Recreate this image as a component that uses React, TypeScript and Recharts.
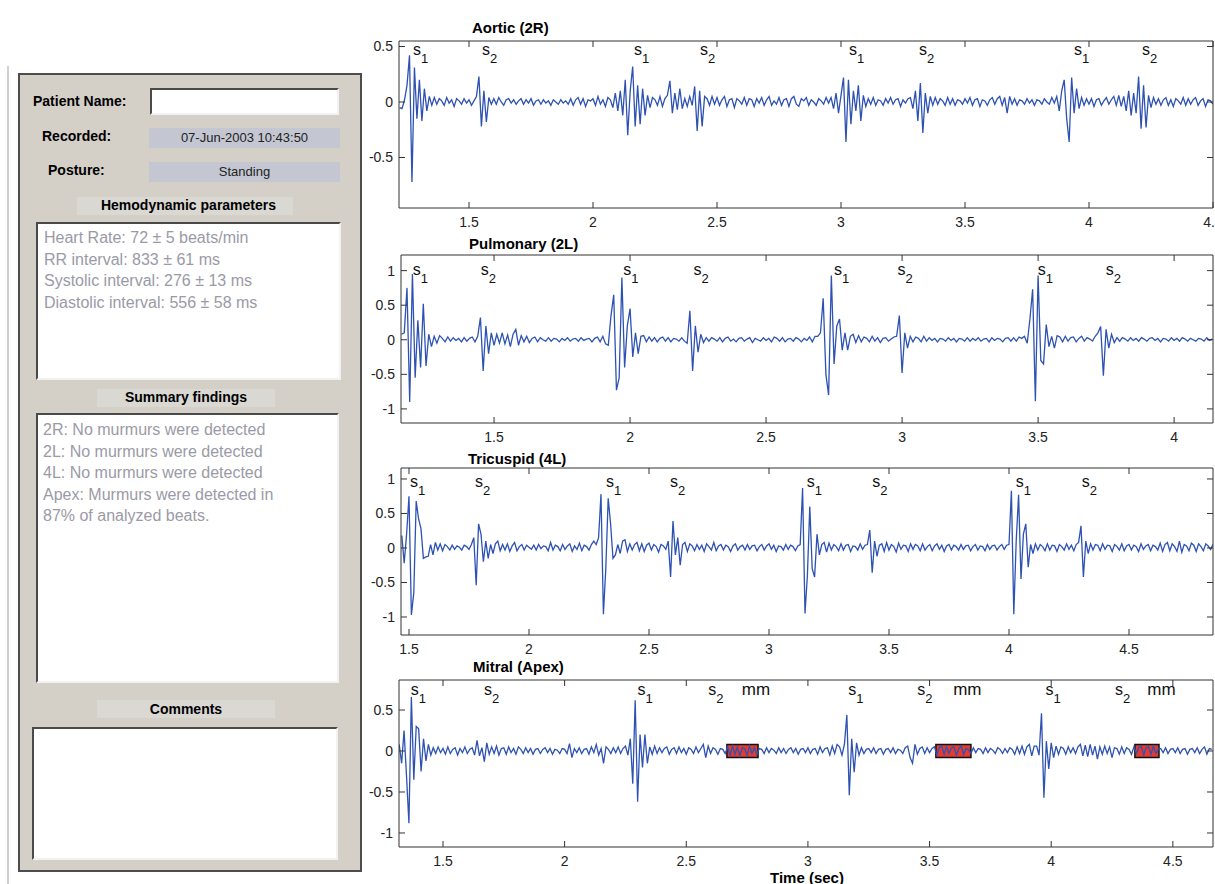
import React from 'react';
import { LineChart, Line, XAxis, YAxis, ReferenceLine, ReferenceArea } from 'recharts';

const STEP = 0.01; // signal samples every 10 ms
const FONT = '"Liberation Sans", Arial, sans-serif';
const WAVE = '#2e52b2';
const FRAME = '#333';

// Aortic (2R)
const aorticStart = 1.22;
const aorticValues = [
  -0.05, -0.06, 0.02, 0.15, 0.42, -0.72, 0.31, -0.15,
  0.2, -0.17, 0.12, -0.08, 0.05, -0.03, 0.04, -0.02, 0.03, 0.01,
  -0.03, 0.04, -0.01, 0.02, -0.04, 0.03, 0.01, -0.02, 0.03, -0.01,
  0.02, -0.03, 0.01, 0.05, 0.23, -0.22, 0.1, -0.18, 0.04, -0.02,
  0.03, -0.02, 0.04, 0.0, -0.03, 0.02, 0.03, -0.01, 0.02, -0.02,
  0.01, 0.03, -0.02, 0.02, -0.01, 0.03, -0.03, 0.01, 0.02, -0.02,
  0.02, -0.01, 0.01, -0.03, 0.02, 0.0, -0.02, 0.02, -0.01, 0.01,
  -0.02, 0.03, -0.03, 0.02, 0.04, -0.02, 0.03, -0.04, 0.02, 0.01,
  0.03, -0.03, 0.05, -0.02, 0.02, -0.04, 0.04, 0.02, -0.05, 0.08,
  -0.08, 0.1, -0.12, 0.2, -0.3, 0.1, 0.32, -0.22, 0.15, -0.2,
  0.12, -0.12, 0.06, -0.05, 0.04, 0.02, -0.03, 0.05, -0.04, 0.03,
  0.06, 0.19, -0.1, 0.08, -0.07, 0.12, -0.06, 0.03, -0.04, 0.05,
  -0.03, 0.14, -0.26, 0.1, -0.22, 0.05, 0.03, -0.03, 0.05, -0.02,
  0.04, -0.03, 0.02, 0.05, -0.04, 0.02, 0.03, -0.05, 0.03, 0.01,
  -0.02, 0.04, -0.03, 0.03, 0.02, -0.04, 0.03, -0.01, 0.04, -0.03,
  0.02, 0.05, -0.03, 0.01, -0.02, 0.04, -0.03, 0.02, 0.03, -0.04,
  0.03, 0.05, -0.02, -0.04, 0.03, 0.01, 0.04, -0.03, 0.02, 0.0,
  -0.03, 0.03, 0.01, -0.02, 0.04, -0.01, 0.04, -0.06, 0.08, -0.1,
  0.06, 0.22, -0.36, 0.2, -0.2, 0.1, -0.08, 0.15, -0.17, 0.06,
  -0.04, 0.03, -0.02, 0.04, -0.03, 0.02, 0.01, -0.03, 0.03, -0.01,
  0.04, -0.02, 0.02, 0.03, -0.04, 0.02, -0.01, 0.03, 0.04, -0.06,
  0.1, -0.17, 0.17, -0.28, 0.08, -0.1, 0.05, -0.03, 0.04, -0.02,
  0.03, 0.01, -0.03, 0.04, -0.02, 0.03, -0.03, 0.02, 0.01, -0.02,
  0.03, -0.01, 0.04, -0.03, 0.02, 0.03, -0.04, 0.02, 0.01, -0.03,
  0.02, 0.04, -0.02, 0.03, 0.05, -0.03, 0.04, -0.1, 0.05, -0.02,
  0.03, -0.03, 0.02, 0.01, -0.02, 0.03, -0.01, 0.02, -0.03, 0.02,
  0.01, -0.02, 0.03, 0.0, -0.02, 0.04, -0.01, 0.05, -0.08, 0.1,
  0.2, -0.15, -0.36, 0.22, -0.1, 0.12, -0.06, 0.04, -0.03, 0.03,
  -0.02, 0.03, -0.04, 0.02, 0.03, -0.03, 0.01, 0.04, -0.02, 0.02,
  0.05, -0.03, 0.06, -0.04, 0.05, -0.08, 0.1, -0.12, 0.08, -0.1,
  0.23, -0.24, 0.15, -0.23, 0.06, -0.05, 0.04, -0.02, 0.03, -0.03,
  0.02, 0.04, -0.03, 0.02, -0.04, 0.03, 0.01, -0.02, 0.04, -0.03,
  0.03, -0.02, 0.02, 0.04, -0.03, 0.01, 0.03, -0.04, 0.02, 0.01,
  -0.02,
];
const aorticS1 = [1.274, 2.165, 3.032, 3.94];
const aorticS2 = [1.552, 2.431, 3.315, 4.214];

// Pulmonary (2L)
const pulmonaryStart = 1.16;
const pulmonaryValues = [
  0.08, 0.1, 0.75, -0.9,
  0.95, -0.55, 0.28, -0.4, 0.52, -0.38, 0.08, -0.1, 0.05, -0.05,
  0.06, 0.02, -0.03, 0.04, -0.02, 0.03, -0.01, 0.02, -0.03, 0.03,
  -0.02, 0.02, 0.04, -0.03, 0.05, 0.32, -0.45, 0.2, -0.2, 0.1,
  -0.08, 0.08, -0.05, 0.1, -0.06, 0.07, -0.1, 0.08, 0.15, -0.08,
  0.06, -0.03, 0.05, -0.04, 0.02, 0.04, -0.03, 0.03, 0.0, -0.02,
  0.03, -0.02, 0.02, 0.01, -0.03, 0.02, -0.01, 0.03, -0.02, 0.01,
  0.02, -0.02, 0.03, -0.01, 0.01, 0.02, -0.03, 0.02, 0.04, -0.03,
  0.05, -0.06, -0.08, 0.35, 0.65, -0.73, -0.55, 0.9, -0.4, 0.2,
  0.45, -0.25, 0.1, -0.2, 0.05, 0.06, -0.03, 0.04, -0.02, 0.03,
  -0.03, 0.02, 0.04, -0.02, 0.03, -0.03, 0.02, 0.01, -0.02, 0.03,
  -0.02, -0.05, 0.42, -0.45, 0.2, -0.18, 0.08, -0.04, 0.03, -0.02,
  0.03, 0.01, -0.02, 0.03, -0.03, 0.02, 0.04, -0.02, 0.01, -0.03,
  0.02, 0.03, -0.02, 0.01, 0.03, -0.04, 0.02, 0.0, -0.02, 0.03,
  -0.01, 0.02, -0.03, 0.04, 0.02, -0.02, 0.03, -0.03, 0.01, 0.02,
  -0.02, 0.03, 0.01, -0.03, 0.02, -0.01, 0.04, -0.03, 0.05, 0.05,
  0.1, 0.6, -0.5, -0.8, 0.93, -0.35, 0.2, 0.3, -0.15, 0.1,
  -0.15, 0.05, 0.08, -0.04, 0.06, -0.03, 0.04, 0.02, -0.03, 0.05,
  -0.02, 0.03, -0.04, 0.02, 0.03, -0.02, 0.01, 0.04, 0.05, 0.35,
  -0.48, 0.1, -0.12, 0.05, -0.03, 0.04, 0.02, -0.03, 0.05, -0.02,
  0.03, -0.01, 0.02, -0.03, 0.02, 0.01, -0.02, 0.03, -0.01, 0.02,
  -0.03, 0.02, 0.01, -0.02, 0.03, -0.02, 0.02, -0.01, 0.03, -0.02,
  0.01, 0.02, -0.03, 0.03, -0.01, 0.02, 0.01, -0.03, 0.02, 0.03,
  -0.02, 0.03, -0.02, 0.04, 0.02, 0.05, -0.05, 0.3, 0.73, -0.89,
  0.93, -0.3, -0.35, 0.22, -0.1, 0.05, -0.12, 0.06, 0.04, -0.03,
  0.05, -0.02, 0.03, 0.04, -0.03, 0.02, 0.05, -0.02, 0.03, 0.01,
  -0.02, 0.05, 0.1, 0.19, -0.52, 0.15, -0.12, 0.08, -0.04, 0.03,
  -0.02, 0.03, 0.01, -0.02, 0.03, -0.01, 0.02, -0.02, 0.03, 0.01,
  -0.02, 0.02, 0.03, -0.01, 0.02, -0.03, 0.02, 0.01, -0.02, 0.03,
  -0.01, 0.02, -0.02, 0.03, 0.01, -0.02, 0.02, 0.0, -0.02, 0.02,
  0.01, -0.02, 0.03, -0.01, 0.01,
];
const pulmonaryS1 = [1.201, 1.975, 2.75, 3.499];
const pulmonaryS2 = [1.451, 2.233, 2.983, 3.749];

// Tricuspid (4L)
const tricuspidStart = 1.47;
const tricuspidValues = [
  0.18, -0.22, 0.2,
  0.75, -0.97, -0.65, 0.68, 0.42, 0.28, -0.15, -0.13, -0.12, 0.05,
  -0.1, 0.08, -0.03, 0.06, -0.04, 0.05, 0.02, -0.03, 0.04, -0.02,
  0.03, 0.01, -0.03, 0.04, 0.02, -0.02, 0.05, 0.15, -0.54, 0.35,
  0.2, -0.2, 0.1, -0.15, 0.05, -0.08, 0.06, 0.1, -0.04, 0.05,
  -0.03, 0.06, -0.05, 0.03, 0.08, -0.04, 0.02, 0.05, -0.03, 0.04,
  0.01, -0.02, 0.04, -0.03, 0.05, -0.01, 0.03, 0.02, -0.04, 0.08,
  -0.03, 0.04, 0.02, -0.04, 0.05, -0.02, 0.03, 0.06, -0.05, 0.03,
  -0.02, 0.07, -0.04, 0.04, 0.02, -0.03, 0.05, 0.1, 0.05, 0.15,
  0.78, -0.96, -0.3, 0.72, 0.35, -0.15, -0.1, 0.05, -0.08, 0.1,
  0.12, -0.05, 0.06, -0.03, 0.05, 0.08, -0.04, 0.06, -0.05, 0.04,
  0.07, -0.03, 0.05, 0.02, -0.06, 0.05, 0.03, -0.02, 0.1, -0.42,
  0.39, -0.1, 0.15, -0.25, 0.05, 0.08, -0.05, 0.06, 0.03, -0.04,
  0.05, -0.02, 0.04, -0.05, 0.06, 0.02, -0.03, 0.08, -0.04, 0.03,
  0.05, -0.03, 0.04, 0.02, -0.05, 0.03, 0.06, -0.03, 0.02, 0.04,
  -0.03, 0.05, -0.02, 0.03, 0.04, -0.04, 0.02, 0.05, -0.03, 0.03,
  0.06, -0.02, 0.04, -0.05, 0.03, 0.02, -0.03, 0.05, -0.02, 0.04,
  0.02, -0.04, 0.03, 0.05, 0.87, -0.95, -0.4, 0.6, -0.3, -0.42,
  0.2, -0.1, 0.05, 0.08, -0.06, 0.07, -0.03, 0.05, 0.02, -0.04,
  0.06, -0.03, 0.04, 0.05, -0.05, 0.03, 0.02, -0.03, 0.06, -0.02,
  0.04, 0.05, 0.26, -0.36, 0.1, -0.12, 0.04, 0.06, -0.05, 0.08,
  -0.03, 0.05, 0.02, -0.06, 0.07, -0.02, 0.04, 0.03, -0.05, 0.06,
  -0.02, 0.05, 0.03, -0.04, 0.06, -0.03, 0.02, 0.05, -0.04, 0.03,
  0.06, -0.02, 0.04, -0.05, 0.03, 0.05, -0.03, 0.04, 0.02, -0.03,
  0.05, -0.02, 0.03, 0.04, -0.04, 0.02, 0.05, -0.03, 0.03, 0.02,
  -0.04, 0.05, -0.02, 0.03, 0.04, -0.03, 0.02, 0.05, -0.02, 0.04,
  0.05, 0.83, -0.96, 0.1, 0.77, -0.45, 0.2, 0.35, -0.28, 0.05,
  -0.08, 0.06, -0.03, 0.05, 0.02, -0.04, 0.06, -0.03, 0.04, 0.03,
  -0.05, 0.05, 0.02, -0.03, 0.06, -0.02, 0.04, -0.04, 0.05, 0.08,
  0.32, -0.42, 0.1, -0.08, 0.06, -0.03, 0.05, 0.04, -0.04, 0.06,
  -0.02, 0.04, 0.03, -0.05, 0.05, 0.02, -0.03, 0.06, -0.04, 0.03,
  0.05, -0.03, 0.04, 0.02, -0.05, 0.06, -0.02, 0.03, 0.05, -0.04,
  0.04, 0.02, -0.03, 0.07, -0.05, 0.05, 0.08, -0.04, 0.06, 0.02,
  -0.05, 0.1, -0.06, 0.05, 0.03, -0.04, 0.07, 0.04, -0.05, 0.06,
  0.02, -0.04, 0.06, 0.03, -0.02, 0.05,
];
const tricuspidS1 = [1.504, 2.321, 3.157, 4.028];
const tricuspidS2 = [1.775, 2.588, 3.43, 4.303];

// Mitral (Apex)
const mitralStart = 1.32;
const mitralValues = [
  0.08, -0.15, 0.25, -0.3, -0.88, 0.66, -0.35, 0.3,
  0.27, -0.25, 0.15, -0.12, 0.08, -0.05, 0.04, -0.03, 0.05, -0.02,
  0.03, -0.04, 0.05, -0.03, 0.02, 0.04, -0.05, 0.03, -0.02, 0.05,
  -0.03, 0.02, 0.04, -0.05, 0.13, -0.06, 0.04, -0.13, 0.1, -0.04,
  0.05, -0.03, 0.06, -0.05, 0.03, 0.04, -0.04, 0.05, -0.02, 0.03,
  -0.04, 0.05, 0.02, -0.03, 0.04, -0.02, 0.03, -0.04, 0.02, 0.03,
  -0.03, 0.02, 0.04, -0.02, 0.03, -0.04, 0.02, 0.01, -0.03, 0.03,
  0.02, -0.03, 0.09, -0.08, 0.03, -0.02, 0.04, -0.03, 0.02, 0.03,
  -0.04, 0.05, -0.02, 0.08, -0.05, 0.03, -0.15, 0.05, 0.02, -0.03,
  0.04, -0.02, 0.05, -0.03, 0.03, 0.06, -0.05, 0.15, -0.4, 0.62,
  -0.62, 0.2, -0.2, 0.2, -0.15, 0.05, -0.04, 0.06, -0.03, 0.04,
  -0.02, 0.03, 0.05, -0.04, 0.02, 0.04, -0.03, 0.05, -0.02, 0.03,
  -0.04, 0.04, 0.02, -0.03, 0.05, -0.02, 0.03, 0.08, -0.08, 0.06,
  -0.03, 0.04, 0.02, -0.04, 0.03, 0.02, -0.03, 0.05, -0.05, 0.06,
  -0.04, 0.05, -0.06, 0.04, 0.03, -0.05, 0.06, -0.03, 0.04, -0.04,
  0.03, 0.02, -0.03, 0.04, -0.02, 0.03, 0.01, -0.03, 0.04, -0.02,
  0.03, -0.03, 0.02, 0.04, -0.02, 0.03, -0.04, 0.02, 0.03, -0.02,
  0.04, -0.03, 0.02, 0.03, -0.04, 0.05, -0.02, 0.03, 0.04, -0.05,
  0.06, -0.03, 0.08, 0.05, -0.05, 0.08, 0.44, -0.54, 0.15, -0.26,
  0.1, -0.05, 0.04, -0.03, 0.02, 0.03, -0.02, 0.04, -0.03, 0.02,
  0.03, -0.04, 0.02, 0.03, -0.02, 0.04, -0.03, 0.02, 0.01, -0.03,
  0.04, 0.06, -0.08, -0.15, 0.08, -0.04, 0.03, 0.05, -0.03, 0.04,
  -0.02, 0.03, 0.05, -0.05, 0.04, 0.06, -0.04, 0.05, -0.03, 0.04,
  0.05, -0.05, 0.03, 0.06, -0.04, 0.03, 0.02, -0.03, 0.04, -0.02,
  0.03, 0.02, -0.03, 0.04, -0.02, 0.03, 0.01, -0.03, 0.04, 0.02,
  -0.03, 0.03, -0.02, 0.04, 0.02, -0.04, 0.05, -0.03, 0.06, -0.04,
  0.05, 0.08, -0.06, 0.06, 0.06, -0.05, 0.46, -0.57, 0.12, -0.22,
  0.1, -0.08, 0.06, -0.04, 0.05, 0.03, -0.04, 0.05, -0.02, 0.04,
  -0.03, 0.05, 0.08, -0.06, 0.07, -0.07, 0.08, -0.05, 0.06, -0.1,
  0.05, -0.04, 0.06, -0.03, 0.05, -0.08, 0.04, 0.03, -0.04, 0.05,
  -0.03, 0.04, 0.02, -0.04, 0.05, -0.03, 0.04, 0.06, -0.05, 0.04,
  0.05, -0.04, 0.06, -0.03, 0.02, 0.03, -0.02, 0.04, -0.03, 0.02,
  0.03, -0.02, 0.04, -0.03, 0.02, 0.03, -0.04, 0.02, 0.03, -0.02,
  0.04, -0.03, 0.02, 0.05, -0.04, 0.03, 0.02,
];
const mitralS1 = [1.368, 2.299, 3.166, 3.977];
const mitralS2 = [1.669, 2.59, 3.449, 4.262];
const mitralMurmurs = [
  [2.667, 2.795],
  [3.526, 3.67],
  [4.344, 4.443],
];
const mitralMmLabels = [2.728, 3.597, 4.395];
const murmurBand = [-0.08, 0.08];

const xTicksAortic = [1.5, 2, 2.5, 3, 3.5, 4, 4.5];
const xTicksPulmonary = [1.5, 2, 2.5, 3, 3.5, 4];
const xTicksTricuspid = [1.5, 2, 2.5, 3, 3.5, 4, 4.5];
const xTicksMitral = [1.5, 2, 2.5, 3, 3.5, 4, 4.5];
const yTicksSmall = [-0.5, 0, 0.5];
const yTicksFull = [-1, -0.5, 0, 0.5, 1];
const yTicksMitral = [-1, -0.5, 0, 0.5];

const hemodynamicLines = [
  'Heart Rate: 72 \u00b1 5 beats/min',
  'RR interval: 833 \u00b1 61 ms',
  'Systolic interval: 276 \u00b1 13 ms',
  'Diastolic interval: 556 \u00b1 58 ms',
];
const summaryLines = [
  '2R: No murmurs were detected',
  '2L: No murmurs were detected',
  '4L: No murmurs were detected',
  'Apex: Murmurs were detected in',
  '87% of analyzed beats.',
];

const LEFT_AXIS = 44;
const TOP_PAD = 10; // margin + 1px top axis
const BOTTOM_AXIS = 26;
const RIGHT_PAD = 20; // margin + 1px right axis
const PLOT_RIGHT = 1213;
const TICK = 6;

const BottomTick = ({ x, y, payload }: any) => (
  <g>
    <line x1={x} y1={y} x2={x} y2={y - TICK} stroke={FRAME} />
    <text x={x} y={y + 19} textAnchor="middle" fontSize={14} fontFamily={FONT} fill="#222">
      {payload.value}
    </text>
  </g>
);
const TopTick = ({ x, y }: any) => <line x1={x} y1={y} x2={x} y2={y + TICK} stroke={FRAME} />;
const LeftTick = ({ x, y, payload }: any) => (
  <g>
    <line x1={x} y1={y} x2={x + TICK} y2={y} stroke={FRAME} />
    <text x={x - 6} y={y + 5} textAnchor="end" fontSize={14} fontFamily={FONT} fill="#222">
      {payload.value}
    </text>
  </g>
);
const RightTick = ({ x, y }: any) => <line x1={x} y1={y} x2={x - TICK} y2={y} stroke={FRAME} />;

const SoundLabel = ({ viewBox, sub, dy }: any) => (
  <text x={viewBox.x} y={viewBox.y + dy} fontSize={16} fontFamily={FONT} fill="#111">
    s
    <tspan dy={8} fontSize={13}>
      {sub}
    </tspan>
  </text>
);
const MmLabel = ({ viewBox, dy }: any) => (
  <text x={viewBox.x} y={viewBox.y + dy} fontSize={17} fontFamily={FONT} fill="#111">
    mm
  </text>
);

function PcgChart(props: any) {
  const { plotLeft, plotTop, plotBottom, start, values, xDomain, yDomain, xTicks, yTicks, s1, s2, sDy, murmurs, mmLabels } = props;
  const data = values.map((v: number, i: number) => ({ t: Math.round((start + i * STEP) * 1000) / 1000, v }));
  const width = LEFT_AXIS + (PLOT_RIGHT - plotLeft) + RIGHT_PAD;
  const height = TOP_PAD + (plotBottom - plotTop) + BOTTOM_AXIS;
  const ax = { xAxisId: 'b', yAxisId: 'l' };
  return (
    <div style={{ position: 'absolute', left: plotLeft - LEFT_AXIS, top: plotTop - TOP_PAD }}>
      <LineChart width={width} height={height} data={data} margin={{ top: TOP_PAD - 1, right: RIGHT_PAD - 1, bottom: 0, left: 0 }}>
        <XAxis xAxisId="b" dataKey="t" type="number" domain={xDomain} ticks={xTicks} interval={0} allowDataOverflow
          height={BOTTOM_AXIS} tickSize={0} tickMargin={0} tickLine={false} stroke={FRAME} tick={<BottomTick />} />
        <XAxis xAxisId="t" orientation="top" dataKey="t" type="number" domain={xDomain} ticks={xTicks} interval={0} allowDataOverflow
          height={1} tickSize={0} tickMargin={0} tickLine={false} stroke={FRAME} tick={<TopTick />} />
        <YAxis yAxisId="l" type="number" domain={yDomain} ticks={yTicks} interval={0} allowDataOverflow
          width={LEFT_AXIS} tickSize={0} tickMargin={0} tickLine={false} stroke={FRAME} tick={<LeftTick />} />
        <YAxis yAxisId="r" orientation="right" type="number" domain={yDomain} ticks={yTicks} interval={0} allowDataOverflow
          width={1} tickSize={0} tickMargin={0} tickLine={false} stroke={FRAME} tick={<RightTick />} />
        {(murmurs || []).map((m: number[], i: number) => (
          <ReferenceArea key={`mm${i}`} {...ax} x1={m[0]} x2={m[1]} y1={murmurBand[0]} y2={murmurBand[1]}
            fill="#e63a2e" fillOpacity={1} stroke="#111" strokeWidth={1.5} />
        ))}
        {/* invisible copy so the mirrored top/right axes (box frame) get drawn */}
        <Line xAxisId="t" yAxisId="r" type="linear" dataKey="v" stroke="none" dot={false} activeDot={false} isAnimationActive={false} />
        <Line {...ax} type="linear" dataKey="v" stroke={WAVE} strokeWidth={1.3} dot={false} activeDot={false} isAnimationActive={false} />
        {s1.map((t: number, i: number) => (
          <ReferenceLine key={`s1${i}`} {...ax} x={t} stroke="none" label={<SoundLabel sub="1" dy={sDy} />} />
        ))}
        {s2.map((t: number, i: number) => (
          <ReferenceLine key={`s2${i}`} {...ax} x={t} stroke="none" label={<SoundLabel sub="2" dy={sDy} />} />
        ))}
        {(mmLabels || []).map((t: number, i: number) => (
          <ReferenceLine key={`ml${i}`} {...ax} x={t} stroke="none" label={<MmLabel dy={sDy} />} />
        ))}
      </LineChart>
    </div>
  );
}

const Txt = ({ left, top, size = 14, bold = false, color = '#000', children, center = false, width }: any) => (
  <div
    style={{
      position: 'absolute',
      left,
      top: top - size / 2 - 1,
      width,
      textAlign: center ? 'center' : 'left',
      fontSize: size,
      lineHeight: `${size + 2}px`,
      fontWeight: bold ? 'bold' : 'normal',
      color,
      whiteSpace: 'nowrap',
      fontFamily: FONT,
    }}
  >
    {children}
  </div>
);

const sunken = {
  position: 'absolute' as const,
  background: '#fff',
  boxSizing: 'border-box' as const,
  borderTop: '2px solid #4a4a4a',
  borderLeft: '2px solid #4a4a4a',
  borderBottom: '2px solid #f2f2f2',
  borderRight: '2px solid #f2f2f2',
};
const valueBox = {
  position: 'absolute' as const,
  background: '#c4c7d1',
  fontSize: 13,
  lineHeight: '20px',
  height: 20,
  width: 191,
  left: 149,
  textAlign: 'center' as const,
  color: '#222',
  fontFamily: FONT,
};

function SidePanel() {
  return (
    <>
      <div style={{ position: 'absolute', left: 7, top: 66, width: 2, height: 820, background: '#cfcfcf' }} />
      <div style={{ position: 'absolute', left: 18, top: 73, width: 344, height: 799, boxSizing: 'border-box', background: '#d4d0c8', border: '2px solid #4d4d4d' }} />
      <Txt left={33} top={101} bold>Patient Name:</Txt>
      <div style={{ ...sunken, left: 150, top: 88, width: 189, height: 27 }} />
      <Txt left={42} top={136} bold>Recorded:</Txt>
      <div style={{ ...valueBox, top: 128 }}>07-Jun-2003 10:43:50</div>
      <Txt left={48} top={170} bold>Posture:</Txt>
      <div style={{ ...valueBox, top: 162 }}>Standing</div>

      <div style={{ position: 'absolute', left: 77, top: 197, width: 216, height: 18, background: '#dad8d3' }} />
      <Txt left={36} width={305} top={205} bold center>Hemodynamic parameters</Txt>
      <div style={{ ...sunken, left: 36, top: 222, width: 305, height: 158 }} />
      {hemodynamicLines.map((s, i) => (
        <Txt key={s} left={44} top={238 + i * 21.5} size={16} color="#9a9aa6">{s}</Txt>
      ))}

      <div style={{ position: 'absolute', left: 97, top: 389, width: 178, height: 18, background: '#dad8d3' }} />
      <Txt left={36} width={300} top={397} bold center>Summary findings</Txt>
      <div style={{ ...sunken, left: 36, top: 413, width: 303, height: 270 }} />
      {summaryLines.map((s, i) => (
        <Txt key={s} left={43} top={430 + i * 21.6} size={16} color="#9a9aa6">{s}</Txt>
      ))}

      <div style={{ position: 'absolute', left: 97, top: 700, width: 178, height: 18, background: '#dad8d3' }} />
      <Txt left={36} width={300} top={709} bold center>Comments</Txt>
      <div style={{ ...sunken, left: 32, top: 727, width: 306, height: 133 }} />
    </>
  );
}

export default function App() {
  return (
    <div style={{ position: 'absolute', left: 0, top: 0, width: 1215, height: 884, overflow: 'hidden', background: '#fff', fontFamily: FONT }}>
      <SidePanel />

      <Txt left={472} top={27} size={15} bold>Aortic (2R)</Txt>
      <PcgChart plotLeft={399} plotTop={41} plotBottom={208} start={aorticStart} values={aorticValues}
        xDomain={[1.2177, 4.5]} yDomain={[-0.955, 0.5495]} xTicks={xTicksAortic} yTicks={yTicksSmall}
        s1={aorticS1} s2={aorticS2} sDy={14} />

      <Txt left={469} top={243} size={15} bold>Pulmonary (2L)</Txt>
      <PcgChart plotLeft={401} plotTop={255} plotBottom={423} start={pulmonaryStart} values={pulmonaryValues}
        xDomain={[1.158, 4.143]} yDomain={[-1.204, 1.226]} xTicks={xTicksPulmonary} yTicks={yTicksFull}
        s1={pulmonaryS1} s2={pulmonaryS2} sDy={20} />

      <Txt left={468} top={458} size={15} bold>Tricuspid (4L)</Txt>
      <PcgChart plotLeft={401} plotTop={468} plotBottom={635} start={tricuspidStart} values={tricuspidValues}
        xDomain={[1.4667, 4.85]} yDomain={[-1.261, 1.159]} xTicks={xTicksTricuspid} yTicks={yTicksFull}
        s1={tricuspidS1} s2={tricuspidS2} sDy={19} />

      <Txt left={473} top={666} size={15} bold>Mitral (Apex)</Txt>
      <PcgChart plotLeft={399} plotTop={680} plotBottom={847} start={mitralStart} values={mitralValues}
        xDomain={[1.3192, 4.665]} yDomain={[-1.171, 0.866]} xTicks={xTicksMitral} yTicks={yTicksMitral}
        s1={mitralS1} s2={mitralS2} sDy={15} murmurs={mitralMurmurs} mmLabels={mitralMmLabels} />

      <Txt left={770} top={877} size={15} bold>Time (sec)</Txt>
    </div>
  );
}
